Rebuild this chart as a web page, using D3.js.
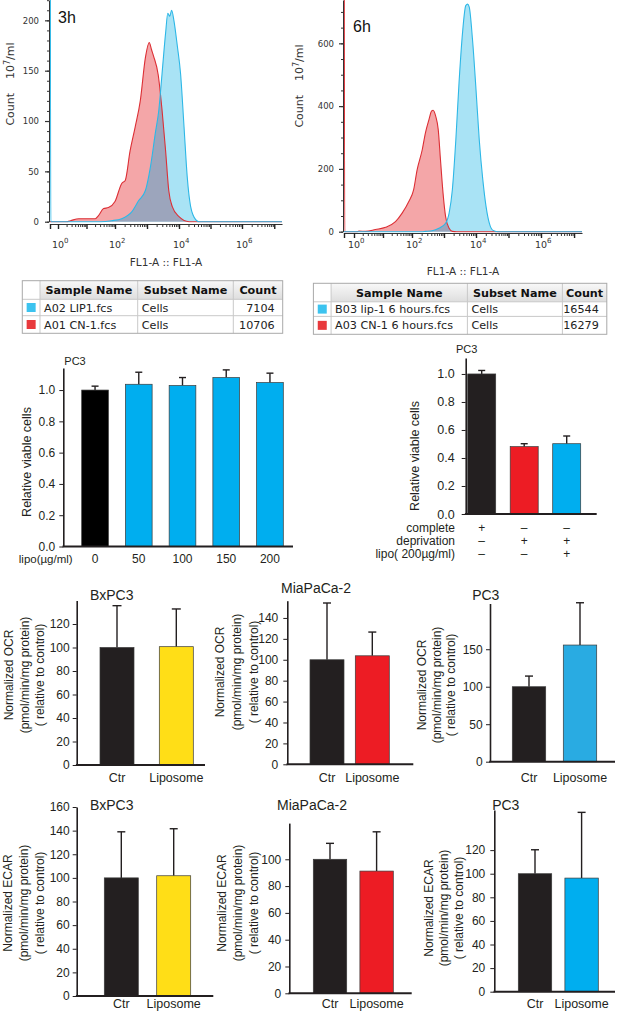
<!DOCTYPE html>
<html>
<head>
<meta charset="utf-8">
<title>Liposome uptake, viability and metabolism</title>
<script src="https://cdn.jsdelivr.net/npm/d3@7"></script>
<style>
  body { margin: 0; background: #fff; }
  svg { display: block; }
</style>
</head>
<body>
<svg id="fig" width="617" height="1011"></svg>
<script>
// ---------- flow cytometry histograms: [log10(FL1-A), count] ----------
const hist3hLip = [[-0.4, 600], [-0.36, 0], [1.5, 0], [1.88, 1], [2.21, 3], [2.53, 10], [2.74, 21], [2.95, 31],
  [3.11, 55], [3.26, 88], [3.37, 111], [3.47, 147], [3.58, 187], [3.65, 207], [3.71, 204], [3.77, 210],
  [3.84, 200], [3.95, 174], [4.05, 147], [4.16, 94], [4.26, 45], [4.37, 15], [4.53, 2], [4.63, 0], [7.24, 0]];
const hist3hCn = [[-0.4, 0], [0.3, 0], [0.44, 1], [0.73, 3], [1.31, 3], [1.42, 6], [1.6, 13], [1.77, 14],
  [2.0, 20], [2.21, 38], [2.32, 41], [2.47, 70], [2.63, 94], [2.79, 120], [2.95, 163], [3.07, 178],
  [3.14, 171], [3.21, 164], [3.35, 146], [3.47, 111], [3.58, 71], [3.68, 31], [3.79, 15], [4.0, 5],
  [4.32, 0], [7.24, 0]];
const hist6hLip = [[-0.4, 0], [2.3, 0], [2.42, 1], [2.63, 3], [2.84, 11], [3.05, 27], [3.16, 59], [3.26, 133],
  [3.37, 293], [3.47, 475], [3.58, 635], [3.68, 720], [3.74, 725], [3.79, 715], [3.89, 613], [4.0, 453],
  [4.1, 293], [4.21, 165], [4.31, 80], [4.41, 27], [4.51, 5], [4.67, 0], [7.24, 0]];
const hist6hCn = [[-0.4, 1500], [-0.37, 0], [0.1, 0], [0.17, 2], [0.4, 1], [0.74, 7], [1.09, 14], [1.43, 32],
  [1.66, 59], [1.89, 96], [2.05, 133], [2.16, 197], [2.32, 261], [2.42, 315], [2.53, 357], [2.61, 384],
  [2.66, 387], [2.74, 368], [2.82, 325], [2.89, 229], [2.97, 123], [3.05, 48], [3.16, 11], [3.26, 1],
  [3.4, 0], [7.24, 0]];
const countTicks3h = [0, 50, 100, 150, 200];
const countTicks6h = [0, 200, 400, 600];
const decadeLabels = [0, 2, 4, 6];

// ---------- FlowJo sample tables ----------
const tableHeader = ["Sample Name", "Subset Name", "Count"];
const samples3h = ["A02 LIP1.fcs", "A01 CN-1.fcs"];
const subsets3h = ["Cells", "Cells"];
const counts3h = [7104, 10706];
const samples6h = ["B03 lip-1 6 hours.fcs", "A03 CN-1 6 hours.fcs"];
const subsets6h = ["Cells", "Cells"];
const counts6h = [16544, 16279];

// ---------- PC3 viability ----------
const lipoDoses = ["0", "50", "100", "150", "200"];
const viabilityDose = [1.0, 1.037, 1.029, 1.08, 1.048];
const viabilityDoseErr = [0.025, 0.077, 0.051, 0.049, 0.06];
const mediaGroups = ["complete", "deprivation", "deprivation+lipo"];
const mediaRows = ["complete", "deprivation", "lipo( 200µg/ml)"];
const mediaSigns = [["+", "–", "–"], ["–", "+", "+"], ["–", "–", "+"]];
const viabilityMedia = [1.0, 0.481, 0.502];
const viabilityMediaErr = [0.025, 0.021, 0.055];
const viabilityTicks = [0, 0.2, 0.4, 0.6, 0.8, 1.0];

// ---------- Seahorse OCR / ECAR (relative to control) ----------
const treatments = ["Ctr", "Liposome"];
const ocrBxPC3 = [100, 100.7], ocrBxPC3Err = [35.6, 32.1];
const ocrMia = [100, 103.8], ocrMiaErr = [54.3, 22.7];
const ocrPC3 = [100, 155.6], ocrPC3Err = [14.2, 56.4];
const ecarBxPC3 = [100, 101.8], ecarBxPC3Err = [39, 39.8];
const ecarMia = [100, 91.2], ecarMiaErr = [11.9, 29.3];
const ecarPC3 = [100, 96.3], ecarPC3Err = [20.3, 55.7];

const BAR_FONT = "'Liberation Sans', Arial, sans-serif";
const FJ_FONT = "'DejaVu Sans', Verdana, sans-serif";
const INK = "#231f20";
const col = { black: INK, cyan: "#00aeef", cyan2: "#29abe2", red: "#ed1c24", yellow: "#ffde17" };

const svg = d3.select("#fig");
const defs = svg.append("defs");
const grad = defs.append("linearGradient").attr("id", "hdrGrad").attr("x1", 0).attr("x2", 0).attr("y1", 0).attr("y2", 1);
grad.append("stop").attr("offset", "0%").attr("stop-color", "#f8f8f8");
grad.append("stop").attr("offset", "100%").attr("stop-color", "#dedede");

// ---------- histogram panels ----------
function histPanel(p) {
  const g = svg.append("g");
  const x = d3.scaleLinear().domain([-0.4, 0, 2, 4, 6, 7.24]).range(p.decadeX);
  const y = d3.scaleLinear().domain([0, p.yMax]).range([p.y0, 0]);
  const area = d3.area().x(d => x(d[0])).y0(y(0)).y1(d => y(d[1])).curve(d3.curveMonotoneX);
  const line = d3.line().x(d => x(d[0])).y(d => y(d[1])).curve(d3.curveMonotoneX);

  defs.append("clipPath").attr("id", p.id + "clip").append("rect")
    .attr("x", x(-0.4)).attr("y", 0).attr("width", x(7.24) - x(-0.4)).attr("height", p.y0 + 1);
  defs.append("clipPath").attr("id", p.id + "ov").append("path").attr("d", area(p.red));

  const pg = g.append("g").attr("clip-path", `url(#${p.id}clip)`);
  pg.append("path").attr("d", area(p.red)).attr("fill", "#f4a6a8");
  pg.append("path").attr("d", area(p.cyan)).attr("fill", "#a9e3f5");
  pg.append("g").attr("clip-path", `url(#${p.id}ov)`)
    .append("path").attr("d", area(p.cyan)).attr("fill", "#9ca5bc");

  // axes
  const ya = g.append("g").attr("transform", `translate(${x(-0.4) - 1},0)`)
    .call(d3.axisLeft(y).tickValues(d3.range(0, p.yMax, p.minorStep)).tickSize(2).tickFormat(""));
  ya.select(".domain").remove();
  ya.selectAll("line").attr("stroke", "#333");
  const yb = g.append("g").attr("transform", `translate(${x(-0.4) - 1},0)`)
    .call(d3.axisLeft(y).tickValues(p.yTicks).tickSize(4).tickSizeOuter(0).tickPadding(p.yPad));
  yb.select(".domain").attr("stroke", "#333");
  yb.selectAll("line").attr("stroke", "#333").attr("stroke-width", 1.2);
  yb.selectAll("text").attr("font-family", FJ_FONT).attr("font-size", 8.5).attr("fill", "#333");

  const minor = [];
  for (let dd = 0; dd <= 7; dd++) for (let k = 2; k <= 9; k++) {
    const v = dd + Math.log10(k);
    if (v < 7.24) minor.push(v);
  }
  const xa = g.append("g").attr("transform", `translate(0,${p.axisY})`)
    .call(d3.axisBottom(x).tickValues(minor).tickSize(3).tickFormat(""));
  xa.select(".domain").remove();
  xa.selectAll("line").attr("stroke", "#333");
  const xb = g.append("g").attr("transform", `translate(0,${p.axisY})`)
    .call(d3.axisBottom(x).tickValues([-0.4, 0, 1, 2, 3, 4, 5, 6, 7]).tickSize(5).tickSizeOuter(0).tickFormat(""));
  xb.select(".domain").attr("stroke", "#333");
  xb.selectAll("line").attr("stroke", "#222").attr("stroke-width", 1.4);

  const lab = g.selectAll(".xlab").data(decadeLabels).join("text")
    .attr("x", d => x(d) - 6).attr("y", p.labelY)
    .attr("font-family", FJ_FONT).attr("font-size", 9.5).attr("fill", "#333");
  lab.append("tspan").text("10");
  lab.append("tspan").attr("dy", -5).attr("font-size", 7).text(d => d);

  g.append("text").attr("x", (x(-0.4) + x(7.24)) / 2).attr("y", p.xTitleY)
    .attr("text-anchor", "middle").attr("font-family", FJ_FONT).attr("font-size", 10.5).attr("fill", "#333")
    .text("FL1-A :: FL1-A");

  const yl = g.append("text").attr("transform", `translate(${p.yLabelX + 4},${p.yLabelY}) rotate(-90)`)
    .attr("text-anchor", "middle").attr("font-family", FJ_FONT).attr("font-size", 11).attr("fill", "#333")
    .style("white-space", "pre");
  yl.append("tspan").text("Count    10");
  yl.append("tspan").attr("dy", -4).attr("font-size", 8).text("7");
  yl.append("tspan").attr("dy", 4).text("/ml");

  // outlines
  const lg = g.append("g").attr("clip-path", `url(#${p.id}clip)`).attr("fill", "none").attr("stroke-width", 1.1);
  lg.append("path").attr("d", line(p.red)).attr("stroke", "#dc2f35");
  lg.append("path").attr("d", line(p.cyan)).attr("stroke", "#2db7e6");

  g.append("text").attr("x", p.titleX).attr("y", p.titleY)
    .attr("font-family", BAR_FONT).attr("font-size", 16).attr("fill", "#111").text(p.title);
}

histPanel({ id: "h3", title: "3h", titleX: 58, titleY: 23, red: hist3hCn, cyan: hist3hLip,
  decadeX: [50, 58, 115, 179, 242, 282], yMax: 220.2, y0: 221.7, axisY: 224, yTicks: countTicks3h,
  minorStep: 10, yPad: 6, labelY: 248, xTitleY: 266, yLabelX: 10, yLabelY: 84 });
histPanel({ id: "h6", title: "6h", titleX: 353, titleY: 32, red: hist6hCn, cyan: hist6hLip,
  decadeX: [344, 354, 412, 476, 541, 582], yMax: 738, y0: 231.7, axisY: 233, yTicks: countTicks6h,
  minorStep: 50, yPad: 5, labelY: 248, xTitleY: 275, yLabelX: 299, yLabelY: 86 });

// ---------- tables ----------
function fcsTable(t) {
  const g = svg.append("g");
  const cx = t.colX, ry = t.rowY;
  g.append("rect").attr("x", cx[0]).attr("y", ry[0]).attr("width", cx[4] - cx[0]).attr("height", ry[3] - ry[0])
    .attr("fill", "#fff");
  g.append("rect").attr("x", cx[1]).attr("y", ry[0]).attr("width", cx[4] - cx[1]).attr("height", ry[1] - ry[0])
    .attr("fill", "url(#hdrGrad)");
  g.selectAll(".vl").data(cx.slice(1, 4)).join("line")
    .attr("x1", d => d).attr("x2", d => d).attr("y1", ry[0]).attr("y2", ry[3]).attr("stroke", "#c9c9c9");
  g.selectAll(".hl").data(ry.slice(1, 3)).join("line")
    .attr("x1", cx[0]).attr("x2", cx[4]).attr("y1", d => d).attr("y2", d => d).attr("stroke", "#c9c9c9");
  g.append("rect").attr("x", cx[0]).attr("y", ry[0]).attr("width", cx[4] - cx[0]).attr("height", ry[3] - ry[0])
    .attr("fill", "none").attr("stroke", "#a9a9a9");

  g.selectAll(".ht").data(tableHeader).join("text")
    .attr("x", (d, i) => (cx[i + 1] + cx[i + 2]) / 2).attr("y", (ry[0] + ry[1]) / 2 + 4)
    .attr("text-anchor", "middle").attr("font-family", FJ_FONT).attr("font-weight", "bold")
    .attr("font-size", 11.2).attr("fill", "#111").text(d => d);

  const rows = d3.range(t.samples.length);
  g.selectAll(".sw").data(rows).join("rect")
    .attr("x", (cx[0] + cx[1]) / 2 - 4.5).attr("y", i => (ry[i + 1] + ry[i + 2]) / 2 - 4.5)
    .attr("width", 9).attr("height", 9).attr("fill", i => t.swatch[i]);
  const txt = (cls, xf, anchor, val) => g.selectAll("." + cls).data(rows).join("text")
    .attr("x", xf).attr("y", i => (ry[i + 1] + ry[i + 2]) / 2 + 4).attr("text-anchor", anchor)
    .attr("font-family", FJ_FONT).attr("font-size", 11.2).attr("fill", "#222").text(val);
  txt("s1", cx[1] + 4, "start", i => t.samples[i]);
  txt("s2", cx[2] + 4, "start", i => t.subsets[i]);
  txt("s3", cx[4] - 8, "end", i => t.counts[i]);
}

fcsTable({ colX: [22.3, 40, 137.7, 233.3, 282.7], rowY: [280.7, 299.3, 315.7, 333.3],
  samples: samples3h, subsets: subsets3h, counts: counts3h, swatch: ["#3cc3ef", "#e8393c"] });
fcsTable({ colX: [313.4, 331.1, 467.4, 562.4, 606.8], rowY: [283.3, 301.8, 316.4, 334.3],
  samples: samples6h, subsets: subsets6h, counts: counts6h, swatch: ["#3cc3ef", "#e8393c"] });

// ---------- bar panels ----------
function barPanel(p) {
  const g = svg.append("g");
  const n = p.cats.length, W = p.bars[1] - p.bars[0];
  const x = d3.scaleBand().domain(p.cats).range(p.bars)
    .paddingInner((W - p.bw * n) / (W - p.bw)).paddingOuter(0);
  const y = d3.scaleLinear().domain([0, p.yMax]).range([p.yBase, p.yTop]);
  const cx = (d, i) => x(p.cats[i]) + x.bandwidth() / 2;
  const top = (d, i) => y(d + p.errs[i]);

  g.selectAll(".err").data(p.values).join("line").attr("class", "err")
    .attr("x1", cx).attr("x2", cx).attr("y1", d => y(d)).attr("y2", top)
    .attr("stroke", INK).attr("stroke-width", 1.4);
  g.selectAll(".cap").data(p.values).join("line").attr("class", "cap")
    .attr("x1", (d, i) => cx(d, i) - p.cap / 2).attr("x2", (d, i) => cx(d, i) + p.cap / 2)
    .attr("y1", top).attr("y2", top).attr("stroke", INK).attr("stroke-width", 1.4);
  g.selectAll(".bar").data(p.values).join("rect").attr("class", "bar")
    .attr("x", (d, i) => x(p.cats[i])).attr("y", d => y(d))
    .attr("width", x.bandwidth()).attr("height", d => y(0) - y(d))
    .attr("fill", (d, i) => p.colors[i]).attr("stroke", "#3a3a3a").attr("stroke-width", 0.7);

  const ya = g.append("g").attr("transform", `translate(${p.axisX[0]},0)`)
    .call(d3.axisLeft(y).tickValues(p.ticks).tickFormat(p.fmt || d3.format("d"))
      .tickSize(4).tickSizeOuter(0).tickPadding(p.pad));
  ya.select(".domain").attr("stroke", INK).attr("stroke-width", 1.6);
  ya.selectAll(".tick line").attr("stroke", INK);
  ya.selectAll(".tick text").attr("font-family", BAR_FONT).attr("font-size", p.tickFont).attr("fill", INK);
  g.append("line").attr("x1", p.axisX[0] - 0.8).attr("x2", p.axisX[1]).attr("y1", y(0)).attr("y2", y(0))
    .attr("stroke", INK).attr("stroke-width", 2);

  if (p.labelY) {
    g.selectAll(".xl").data(p.cats).join("text").attr("class", "xl")
      .attr("x", d => x(d) + x.bandwidth() / 2).attr("y", p.labelY).attr("text-anchor", "middle")
      .attr("font-family", BAR_FONT).attr("font-size", p.labelFont || 12.5).attr("fill", INK).text(d => d);
  }
  g.append("text").attr("x", p.title[0]).attr("y", p.title[1]).attr("text-anchor", "middle")
    .attr("font-family", BAR_FONT).attr("font-size", p.titleFont || 14).attr("fill", INK).text(p.title[2]);
  p.yLabel.forEach((s, i) => {
    g.append("text").attr("transform", `translate(${p.yLabelX[i]},${p.yLabelY}) rotate(-90)`)
      .attr("dy", "0.35em").attr("text-anchor", "middle").attr("font-family", BAR_FONT)
      .attr("font-size", p.yLabelFont || 12).attr("fill", INK).style("white-space", "pre").text(s);
  });
  return x;
}

// PC3 dose response
barPanel({ cats: lipoDoses, values: viabilityDose, errs: viabilityDoseErr,
  colors: ["#000000", col.cyan, col.cyan, col.cyan, col.cyan],
  bars: [81.7, 283.3], bw: 26.7, axisX: [63.3, 293], yBase: 546.5, yTop: 368, yMax: 1.141,
  ticks: viabilityTicks, fmt: d3.format(".1f"), pad: 4, tickFont: 12, cap: 7,
  labelY: 562.5, labelFont: 12, title: [75, 365, "PC3"], titleFont: 11,
  yLabel: ["Relative viable cells"], yLabelX: [26.7], yLabelY: 462, yLabelFont: 12.5 });
svg.append("text").attr("x", 72.7).attr("y", 563).attr("text-anchor", "end")
  .attr("font-family", BAR_FONT).attr("font-size", 11.5).attr("fill", INK).text("lipo(µg/ml)");

// PC3 nutrient deprivation
const xm = barPanel({ cats: mediaGroups, values: viabilityMedia, errs: viabilityMediaErr,
  colors: [col.black, col.red, col.cyan],
  bars: [467.7, 580.7], bw: 28, axisX: [465.7, 596.7], yBase: 514, yTop: 358, yMax: 1.114,
  ticks: viabilityTicks, fmt: d3.format(".1f"), pad: 7, tickFont: 12.5, cap: 7,
  title: [466.7, 353, "PC3"], titleFont: 11,
  yLabel: ["Relative viable cells"], yLabelX: [415], yLabelY: 456, yLabelFont: 12.5 });
mediaRows.forEach((r, j) => {
  const yy = 531.7 + j * 13.3;
  svg.append("text").attr("x", 455).attr("y", yy).attr("text-anchor", "end")
    .attr("font-family", BAR_FONT).attr("font-size", 12).attr("fill", INK).text(r);
  svg.selectAll(".sg" + j).data(mediaSigns[j]).join("text")
    .attr("x", (d, i) => xm(mediaGroups[i]) + xm.bandwidth() / 2).attr("y", yy).attr("text-anchor", "middle")
    .attr("font-family", BAR_FONT).attr("font-size", 12).attr("fill", INK).text(d => d);
});

const ocrLabel = ["Normalized OCR", "(pmol/min/mg protein)", "( relative to control)"];
const ecarLabel = ["Normalized ECAR", "(pmol/min/mg protein)", "( relative to control)"];
const d20 = m => d3.range(0, m + 1, 20);

barPanel({ cats: treatments, values: ocrBxPC3, errs: ocrBxPC3Err, colors: [col.black, col.yellow],
  bars: [100, 193.3], bw: 34, axisX: [76.7, 205], yBase: 765, yTop: 600.5, yMax: 140,
  ticks: d20(120), pad: 3, tickFont: 12, cap: 9, labelY: 782, title: [111.7, 600, "BxPC3"],
  yLabel: ocrLabel, yLabelX: [8.3, 24.5, 39.8], yLabelY: 675 });
barPanel({ cats: treatments, values: ocrMia, errs: ocrMiaErr, colors: [col.black, col.red],
  bars: [310, 389.3], bw: 34, axisX: [287.3, 413.3], yBase: 764.3, yTop: 600.7, yMax: 156.5,
  ticks: d20(140), pad: 5, tickFont: 12, cap: 8, labelY: 782, title: [316, 592.7, "MiaPaCa-2"],
  yLabel: ocrLabel, yLabelX: [220, 236.7, 253.3], yLabelY: 672 });
barPanel({ cats: treatments, values: ocrPC3, errs: ocrPC3Err, colors: [col.black, col.cyan2],
  bars: [512.3, 596.7], bw: 33.4, axisX: [490, 615], yBase: 761.7, yTop: 603.5, yMax: 211,
  ticks: [0, 50, 100, 150], pad: 3.3, tickFont: 12, cap: 8, labelY: 782, title: [485.8, 600, "PC3"],
  yLabel: ocrLabel, yLabelX: [421.7, 436.7, 450.7], yLabelY: 685 });

barPanel({ cats: treatments, values: ecarBxPC3, errs: ecarBxPC3Err, colors: [col.black, col.yellow],
  bars: [104.3, 190.7], bw: 34, axisX: [76.7, 213.3], yBase: 996, yTop: 807, yMax: 160,
  ticks: d20(160), pad: 3, tickFont: 12, cap: 8, labelY: 1008, title: [111.7, 810, "BxPC3"],
  yLabel: ecarLabel, yLabelX: [7.3, 24, 40], yLabelY: 903 });
barPanel({ cats: treatments, values: ecarMia, errs: ecarMiaErr, colors: [col.black, col.red],
  bars: [313.3, 393.3], bw: 33.4, axisX: [289.3, 411.7], yBase: 993.3, yTop: 823.1, yMax: 127,
  ticks: d20(100), pad: 4, tickFont: 12, cap: 8, labelY: 1008, title: [312, 810, "MiaPaCa-2"],
  yLabel: ecarLabel, yLabelX: [221.7, 237.3, 253.3], yLabelY: 903 });
barPanel({ cats: treatments, values: ecarPC3, errs: ecarPC3Err, colors: [col.black, col.cyan],
  bars: [518.3, 598.3], bw: 33.4, axisX: [494.3, 615], yBase: 991.7, yTop: 810, yMax: 154,
  ticks: d20(120), pad: 5, tickFont: 12, cap: 8, labelY: 1008, title: [505.8, 810, "PC3"],
  yLabel: ecarLabel, yLabelX: [428.3, 443.3, 458.3], yLabelY: 908 });
</script>
</body>
</html>
